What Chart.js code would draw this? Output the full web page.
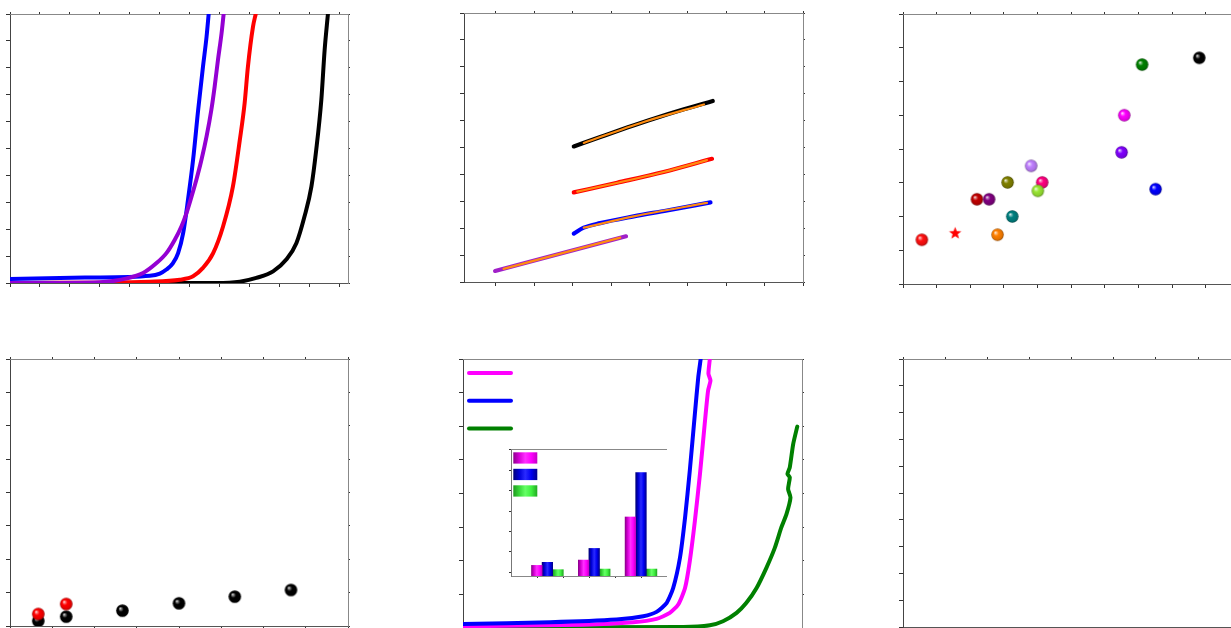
<!DOCTYPE html>
<html>
<head>
<meta charset="utf-8">
<script src="https://cdn.jsdelivr.net/npm/chart.js@4.4.1/dist/chart.umd.min.js"></script>
<style>
html, body { margin: 0; padding: 0; background: #fff; overflow: hidden; }
body { width: 1231px; height: 628px; position: relative; }
.box { position: absolute; }
</style>
</head>
<body>
<div class="box" id="w1"><canvas id="c1"></canvas></div>
<div class="box" id="w2"><canvas id="c2"></canvas></div>
<div class="box" id="w3"><canvas id="c3"></canvas></div>
<div class="box" id="w4"><canvas id="c4"></canvas></div>
<div class="box" id="w5"><canvas id="c5"></canvas></div>
<div class="box" id="w6"><canvas id="c6"></canvas></div>
<div class="box" id="w7"><canvas id="c7"></canvas></div>
<script>
// ---- panel 1 : four steep curves
const p1XTicks = [0, 1, 2, 3, 4, 5, 6, 7, 8, 9, 10, 11];
const p1YTicks = [0, 1, 2, 3, 4, 5, 6, 7, 8, 9, 10];
const p1BlackX = [0, 6.89, 7.67, 8.22, 8.78, 9.22, 9.56, 9.83, 10.06, 10.22, 10.39, 10.5, 10.61];
const p1BlackY = [0, 0, 0.05, 0.19, 0.43, 0.87, 1.49, 2.48, 3.59, 4.95, 6.81, 8.66, 10];
const p1RedX = [0, 4.67, 5.67, 6.11, 6.44, 6.78, 7.11, 7.44, 7.67, 7.83, 7.94, 8.11, 8.2];
const p1RedY = [0, 0.05, 0.12, 0.25, 0.56, 1.11, 2.1, 3.59, 5.32, 6.68, 8.04, 9.53, 10];
const p1BlueX = [0, 2.5, 4.67, 5.0, 5.22, 5.44, 5.61, 5.78, 5.94, 6.11, 6.28, 6.44, 6.56, 6.63];
const p1BlueY = [0.15, 0.2, 0.27, 0.35, 0.5, 0.74, 1.11, 1.86, 3.09, 4.58, 6.44, 8.04, 9.16, 10];
const p1PurpleX = [0, 3, 3.9, 4.44, 4.89, 5.22, 5.5, 5.72, 5.89, 6.06, 6.22, 6.39, 6.56, 6.72, 6.83, 6.94, 7.06, 7.13];
const p1PurpleY = [0, 0.03, 0.17, 0.37, 0.74, 1.11, 1.61, 2.1, 2.6, 3.22, 3.84, 4.58, 5.45, 6.44, 7.3, 8.29, 9.28, 10];

// ---- panel 2 : four short lines with an orange fit on each
const p2XTicks = [0, 1, 2, 3, 4, 5, 6, 7, 8];
const p2YTicks = [0, 1, 2, 3, 4, 5, 6, 7, 8, 9, 10];
const p2BlackX = [2.03, 2.72, 3.42, 4.11, 4.9, 5.65];
const p2BlackY = [5.04, 5.39, 5.74, 6.07, 6.42, 6.73];
const p2BlackFitX = [2.29, 3.85, 5.42];
const p2BlackFitY = [5.17, 5.95, 6.6];
const p2RedX = [2.03, 3.16, 4.37, 5.63];
const p2RedY = [3.33, 3.69, 4.09, 4.58];
const p2RedFitX = [2.12, 4.37, 5.5];
const p2RedFitY = [3.36, 4.09, 4.53];
const p2BlueX = [2.03, 2.29, 2.72, 3.59, 4.46, 5.59];
const p2BlueY = [1.8, 2.02, 2.19, 2.44, 2.66, 2.96];
const p2BlueFitX = [2.29, 3.59, 5.5];
const p2BlueFitY = [2.02, 2.44, 2.94];
const p2PurpleX = [-0.02, 3.39];
const p2PurpleY = [0.41, 1.7];
const p2PurpleFitX = [0.2, 3.24];
const p2PurpleFitY = [0.49, 1.65];

// ---- panel 3 : coloured spheres and one star
const p3XTicks = [0, 1, 2, 3, 4, 5, 6, 7, 8, 9, 10];
const p3YTicks = [0, 1, 2, 3, 4, 5, 6, 7, 8];
const p3X = [0.56, 2.2, 2.56, 3.11, 3.25, 2.81, 3.81, 4.14, 4.01, 6.5, 6.58, 7.11, 7.51, 8.81];
const p3Y = [1.31, 2.51, 2.51, 3.01, 2.0, 1.46, 3.5, 3.01, 2.76, 3.9, 5.0, 6.5, 2.81, 6.7];
const p3Colors = ['#ff1010', '#c00000', '#800080', '#808000', '#008080', '#ff8000', '#c080ff',
                  '#ff0080', '#99e633', '#8000ff', '#ff00ff', '#008000', '#0000ff', '#000000'];
const p3StarX = [1.55];
const p3StarY = [1.5];

// ---- panel 4 : two sphere series
const p4XTicks = [0, 1, 2, 3, 4, 5, 6, 7, 8];
const p4YTicks = [0, 1, 2, 3, 4, 5, 6, 7, 8];
const p4BlackX = [0.67, 1.33, 2.66, 4.0, 5.32, 6.65];
const p4BlackY = [0.15, 0.28, 0.46, 0.68, 0.88, 1.08];
const p4RedX = [0.67, 1.33];
const p4RedY = [0.36, 0.66];

// ---- panel 5 : three curves + bar inset
const p5XTicks = [0, 1, 2, 3, 4, 5, 6, 7, 8, 9, 10];
const p5YTicks = [0, 1, 2, 3, 4, 5, 6, 7, 8];
const p5MagX = [0, 3.55, 5.02, 5.71, 6.1, 6.35, 6.55, 6.69, 6.84, 6.99, 7.13, 7.23, 7.3, 7.24, 7.28];
const p5MagY = [0.05, 0.1, 0.17, 0.27, 0.45, 0.7, 1.19, 1.99, 3.18, 4.58, 6.07, 7.06, 7.36, 7.56, 7.99];
const p5BlueX = [0, 2.57, 4.53, 5.32, 5.71, 6.01, 6.2, 6.4, 6.55, 6.69, 6.84, 6.94, 7.01];
const p5BlueY = [0.12, 0.17, 0.25, 0.35, 0.48, 0.75, 1.19, 2.09, 3.28, 4.68, 6.37, 7.46, 7.99];
const p5GreenX = [0, 6.5, 7.28, 7.67, 8.07, 8.36, 8.66, 8.95, 9.2, 9.39, 9.54, 9.66, 9.59, 9.64, 9.57, 9.64, 9.74, 9.86];
const p5GreenY = [0.02, 0.03, 0.08, 0.2, 0.45, 0.75, 1.19, 1.79, 2.39, 2.99, 3.38, 3.88, 4.13, 4.48, 4.58, 4.78, 5.47, 5.99];

const insetXTicks = [1, 2, 3, 4, 5];
const insetYTicks = [0, 1, 2, 3, 4, 5, 6];
const insetX = [1.4, 3.2, 5.0];
const insetMag = [0.34, 0.6, 2.71];
const insetBlue = [0.49, 1.17, 4.88];
const insetGreen = [0.13, 0.16, 0.16];

// ---- panel 6 : empty frame
const p6XTicks = [0, 1, 2, 3, 4, 5, 6, 7, 8];
const p6YTicks = [0, 1, 2, 3, 4, 5, 6, 7, 8, 9, 10];

// plot areas in page pixels: left, top, right, bottom
const AREA = {
  w1: [10, 14, 348, 283], w2: [464, 13, 803, 282], w3: [903, 14, 1242, 284],
  w4: [10, 359, 348, 626], w5: [463, 359, 802, 628], w6: [903, 359, 1242, 627],
  w7: [511, 449, 667, 576]
};

function place(id, tl, ts) {
  const a = AREA[id], w = document.getElementById(id);
  w.style.left = (a[0] - tl) + 'px';
  w.style.top = (a[1] - ts) + 'px';
  w.style.width = (a[2] - a[0] + tl + ts) + 'px';
  w.style.height = (a[3] - a[1] + tl + ts) + 'px';
}

function axis(pos, min, max, ticks, len, col) {
  return {
    type: 'linear', position: pos, min: min, max: max, offset: false,
    afterBuildTicks: s => { s.ticks = ticks.map(v => ({ value: v })); },
    ticks: { display: false },
    grid: { drawOnChartArea: false, drawTicks: len > 0, tickLength: len, color: '#333', offset: false },
    border: { display: true, color: col, width: 1 }
  };
}

function frame(xr, yr, xt, yt, o) {
  o = o || {};
  const tl = o.tl ?? 4, ts = o.ts ?? 2;
  return {
    x: axis('bottom', xr[0], xr[1], xt, tl, '#555'),
    y: axis('left', yr[0], yr[1], yt, tl, '#444'),
    x2: axis('top', xr[0], xr[1], o.topTicks ?? xt, ts, '#888'),
    y2: axis('right', yr[0], yr[1], o.rightTicks ?? yt, ts, '#888')
  };
}

const pts = (xs, ys) => xs.map((x, i) => ({ x: x, y: ys[i] }));

function curve(xs, ys, color, width, mono) {
  return {
    type: 'line', data: pts(xs, ys), borderColor: color, borderWidth: width,
    pointRadius: 0, fill: false, borderCapStyle: 'round', borderJoinStyle: 'round',
    cubicInterpolationMode: mono ? 'monotone' : 'default', tension: mono ? 0 : 0.2
  };
}

// chart.js paints dataset 0 last (on top); list them bottom-first and flip
const stackUp = list => list.slice().reverse();

function baseOpts(scales) {
  return {
    responsive: true, maintainAspectRatio: false, animation: false, events: [],
    layout: { padding: 0, autoPadding: false },
    plugins: { legend: { display: false }, tooltip: { enabled: false } },
    scales: scales
  };
}

// sphere marker
function rgb(hex) { const n = parseInt(hex.slice(1), 16); return [n >> 16, (n >> 8) & 255, n & 255]; }
function mix(c, t, f) { return 'rgb(' + c.map((v, i) => Math.round(v + (t[i] - v) * f)).join(',') + ')'; }
function sphere(hex, r) {
  const s = Math.ceil(2 * r) + 2, c = document.createElement('canvas');
  c.width = c.height = s;
  const g = c.getContext('2d'), m = s / 2, base = rgb(hex);
  const grad = g.createRadialGradient(m - r * 0.38, m - r * 0.38, 0, m, m, r);
  grad.addColorStop(0, '#ffffff');
  grad.addColorStop(0.18, mix(base, [255, 255, 255], 0.5));
  grad.addColorStop(0.42, hex);
  grad.addColorStop(0.85, mix(base, [0, 0, 0], 0.12));
  grad.addColorStop(1, mix(base, [0, 0, 0], 0.45));
  g.fillStyle = grad;
  g.beginPath(); g.arc(m, m, r, 0, Math.PI * 2); g.fill();
  return c;
}
function star(hex, R) {
  const s = Math.ceil(2 * R) + 2, c = document.createElement('canvas');
  c.width = c.height = s;
  const g = c.getContext('2d'), m = s / 2;
  g.fillStyle = hex;
  g.beginPath();
  for (let i = 0; i < 10; i++) {
    const rr = i % 2 ? R * 0.42 : R, a = -Math.PI / 2 + i * Math.PI / 5;
    g.lineTo(m + rr * Math.cos(a), m + rr * Math.sin(a));
  }
  g.closePath(); g.fill();
  return c;
}

// ---- panel 1
place('w1', 4, 2);
new Chart(document.getElementById('c1'), {
  type: 'line',
  data: { datasets: stackUp([
    curve(p1BlackX, p1BlackY, '#000000', 4, true),
    curve(p1RedX, p1RedY, '#ff0000', 4, true),
    curve(p1BlueX, p1BlueY, '#0000ff', 4, true),
    curve(p1PurpleX, p1PurpleY, '#9400d3', 4, true)
  ]) },
  options: baseOpts(frame([0, 11.28], [0, 10], p1XTicks, p1YTicks))
});

// ---- panel 2
place('w2', 4, 2);
const ORANGE = '#ff8c10';
new Chart(document.getElementById('c2'), {
  type: 'line',
  data: { datasets: stackUp([
    curve(p2BlackX, p2BlackY, '#000000', 4.2, true), curve(p2BlackFitX, p2BlackFitY, ORANGE, 2.2, true),
    curve(p2RedX, p2RedY, '#ff0000', 4.2, true), curve(p2RedFitX, p2RedFitY, ORANGE, 2.2, true),
    curve(p2BlueX, p2BlueY, '#0000ff', 4.2, true), curve(p2BlueFitX, p2BlueFitY, ORANGE, 2.2, true),
    curve(p2PurpleX, p2PurpleY, '#a020c8', 4.2, true), curve(p2PurpleFitX, p2PurpleFitY, ORANGE, 2.2, true)
  ]) },
  options: baseOpts(frame([-0.83, 8], [0, 10], p2XTicks, p2YTicks))
});

// ---- panel 3
place('w3', 4, 2);
new Chart(document.getElementById('c3'), {
  type: 'scatter',
  data: { datasets: [
    { data: pts(p3StarX, p3StarY), pointStyle: star('#ff0000', 6.5), pointRadius: 6 },
    { data: pts(p3X, p3Y), pointStyle: p3Colors.map(c => sphere(c, 6.2)), pointRadius: 6 }
  ] },
  options: baseOpts(frame([0, 10.08], [0, 8], p3XTicks, p3YTicks))
});

// ---- panel 4
place('w4', 4, 2);
new Chart(document.getElementById('c4'), {
  type: 'scatter',
  data: { datasets: stackUp([
    { data: pts(p4BlackX, p4BlackY), pointStyle: sphere('#000000', 6.3), pointRadius: 6 },
    { data: pts(p4RedX, p4RedY), pointStyle: sphere('#ff0000', 6.3), pointRadius: 6 }
  ]) },
  options: baseOpts(frame([0, 8], [0, 8], p4XTicks, p4YTicks))
});

// ---- panel 5
place('w5', 4, 2);
const p5Legend = {
  id: 'p5Legend',
  afterDatasetsDraw(chart) {
    const { ctx, chartArea: a } = chart;
    ctx.save();
    ctx.lineWidth = 4; ctx.lineCap = 'round';
    ['#ff00ff', '#0000ff', '#008000'].forEach((c, i) => {
      const y = a.top + 14 + i * 27.7;
      ctx.strokeStyle = c;
      ctx.beginPath(); ctx.moveTo(a.left + 6, y); ctx.lineTo(a.left + 48, y); ctx.stroke();
    });
    ctx.restore();
  }
};
new Chart(document.getElementById('c5'), {
  type: 'line',
  data: { datasets: stackUp([
    curve(p5GreenX, p5GreenY, '#008000', 4, false),
    curve(p5MagX, p5MagY, '#ff00ff', 4, false),
    curve(p5BlueX, p5BlueY, '#0000ff', 4, false)
  ]) },
  options: baseOpts(frame([0, 10], [0, 8], p5XTicks, p5YTicks, { topTicks: [] })),
  plugins: [p5Legend]
});

// ---- inset bars
place('w7', 2, 0);
const BAR_W = 10.6;
const barStops = [
  ['#8c008c', '#d800d8', '#ff30ff', '#ff00ff', '#c400c4'],
  ['#000078', '#0000d8', '#2a2aff', '#0000f0', '#00008c'],
  ['#1f9a1f', '#38d838', '#66ff66', '#40f040', '#22aa22']
];
function hGrad(ctx, x0, x1, stops) {
  const g = ctx.createLinearGradient(x0, 0, x1, 0);
  stops.forEach((c, i) => g.addColorStop(i / (stops.length - 1), c));
  return g;
}
function barFill(k) {
  return function (c) {
    const xs = c.chart.scales.x;
    if (c.type !== 'data' || !xs) return barStops[k][3];
    const cx = xs.getPixelForValue(insetX[c.dataIndex]) + (k - 1) * BAR_W;
    if (!isFinite(cx)) return barStops[k][3];
    return hGrad(c.chart.ctx, cx - BAR_W / 2, cx + BAR_W / 2, barStops[k]);
  };
}
const insetLegend = {
  id: 'insetLegend',
  afterDatasetsDraw(chart) {
    const { ctx, chartArea: a } = chart;
    barStops.forEach((s, i) => {
      const x = a.left + 2.3, y = a.top + 3.3 + i * 16.5;
      ctx.fillStyle = hGrad(ctx, x, x + 24, s);
      ctx.fillRect(x, y, 24, 11.3);
    });
  }
};
const INSET_YMIN = -0.18;
function barSet(vals, k) {
  return { data: pts(insetX, vals), backgroundColor: barFill(k), borderWidth: 0,
           barThickness: BAR_W, base: INSET_YMIN };
}
const insetScales = frame([0, 6], [INSET_YMIN, 6.04], insetXTicks, insetYTicks, { tl: 2, ts: 0 });
insetScales.x.border.color = '#888';
insetScales.y.border.color = '#777';
new Chart(document.getElementById('c7'), {
  type: 'bar',
  data: { datasets: [barSet(insetMag, 0), barSet(insetBlue, 1), barSet(insetGreen, 2)] },
  options: baseOpts(insetScales),
  plugins: [insetLegend]
});

// ---- panel 6
place('w6', 4, 2);
new Chart(document.getElementById('c6'), {
  type: 'line',
  data: { datasets: [] },
  options: baseOpts(frame([0, 8.04], [0, 10], p6XTicks, p6YTicks))
});
</script>
</body>
</html>
